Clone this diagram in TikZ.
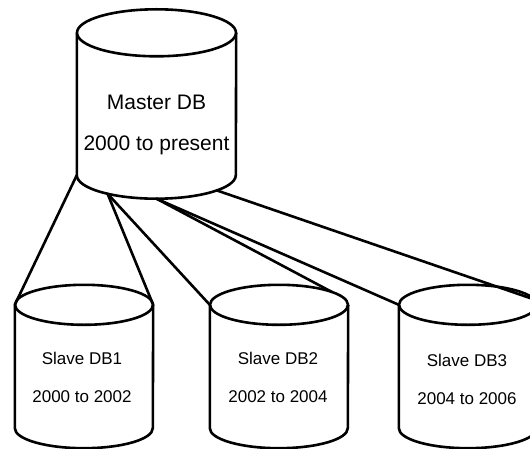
\documentclass[tikz,border=0pt]{standalone}
\usepackage{fontspec}
\setmainfont{Liberation Sans}
% Outline of a database cylinder around a body node: #1 node, #2 x radius, #3 y radius
\newcommand\dbdraw[3]{%
  \draw[outline] (#1.north) ellipse [x radius=#2, y radius=#3];
  \draw[outline] (#1.north west) -- (#1.south west)
    arc[start angle=180, end angle=360, x radius=#2, y radius=#3] -- (#1.north east);
}
\begin{document}
\begin{tikzpicture}[x=1pt,y=1pt,
  outline/.style={line width=2.6pt, line join=round},
  link/.style={line width=2.6pt, line cap=round},
  body/.style={rectangle, inner sep=0pt, draw=none},
  bigtext/.style={anchor=base, font=\fontsize{21}{25}\selectfont},
  smalltext/.style={anchor=base, font=\fontsize{17}{20}\selectfont}]
\useasboundingbox (0,0) rectangle (530,448);

% cylinder bodies (between the centres of the top and bottom ellipses)
\node[body, minimum width=159, minimum height=142] (master) at (156.5,344) {};
\node[body, minimum width=138, minimum height=123] (slave1) at (84,81.5) {};
\node[body, minimum width=138, minimum height=123] (slave2) at (279,81.5) {};
\node[body, minimum width=138, minimum height=123] (slave3) at (468,81.5) {};

\dbdraw{master}{79.5}{23.5}
\dbdraw{slave1}{69}{20}
\dbdraw{slave2}{69}{20}
\dbdraw{slave3}{69}{20}

% labels
\node[bigtext] (master-name) at (156.5,338) {Master DB};
\node[bigtext] (master-range) at (156.5,298) {2000 to present};
\node[smalltext] (slave1-name) at (82,84) {Slave DB1};
\node[smalltext] (slave1-range) at (82,46) {2000 to 2002};
\node[smalltext] (slave2-name) at (278,84) {Slave DB2};
\node[smalltext] (slave2-range) at (278,46) {2002 to 2004};
\node[smalltext] (slave3-name) at (467,82) {Slave DB3};
\node[smalltext] (slave3-range) at (467,44) {2004 to 2006};

% attachment points on the ellipses
\coordinate (m-a) at ([shift={(232:79.5 and 23.5)}]master.south);
\coordinate (m-b) at ([shift={(270:79.5 and 23.5)}]master.south);
\coordinate (m-c) at ([shift={(319.5:79.5 and 23.5)}]master.south);
\coordinate (s2-r) at ([shift={(40:69 and 20)}]slave2.north);
\coordinate (s3-r) at ([shift={(15:69 and 20)}]slave3.north);

% replication links
\draw[link] (master.south west) -- (slave1.north west);
\draw[link] (m-a) -- (slave1.north east);
\draw[link] (m-a) -- (slave2.north west);
\draw[link] (m-b) -- (s2-r);
\draw[link] (m-b) -- (slave3.north west);
\draw[link] (m-c) -- (s3-r);
\end{tikzpicture}
\end{document}
